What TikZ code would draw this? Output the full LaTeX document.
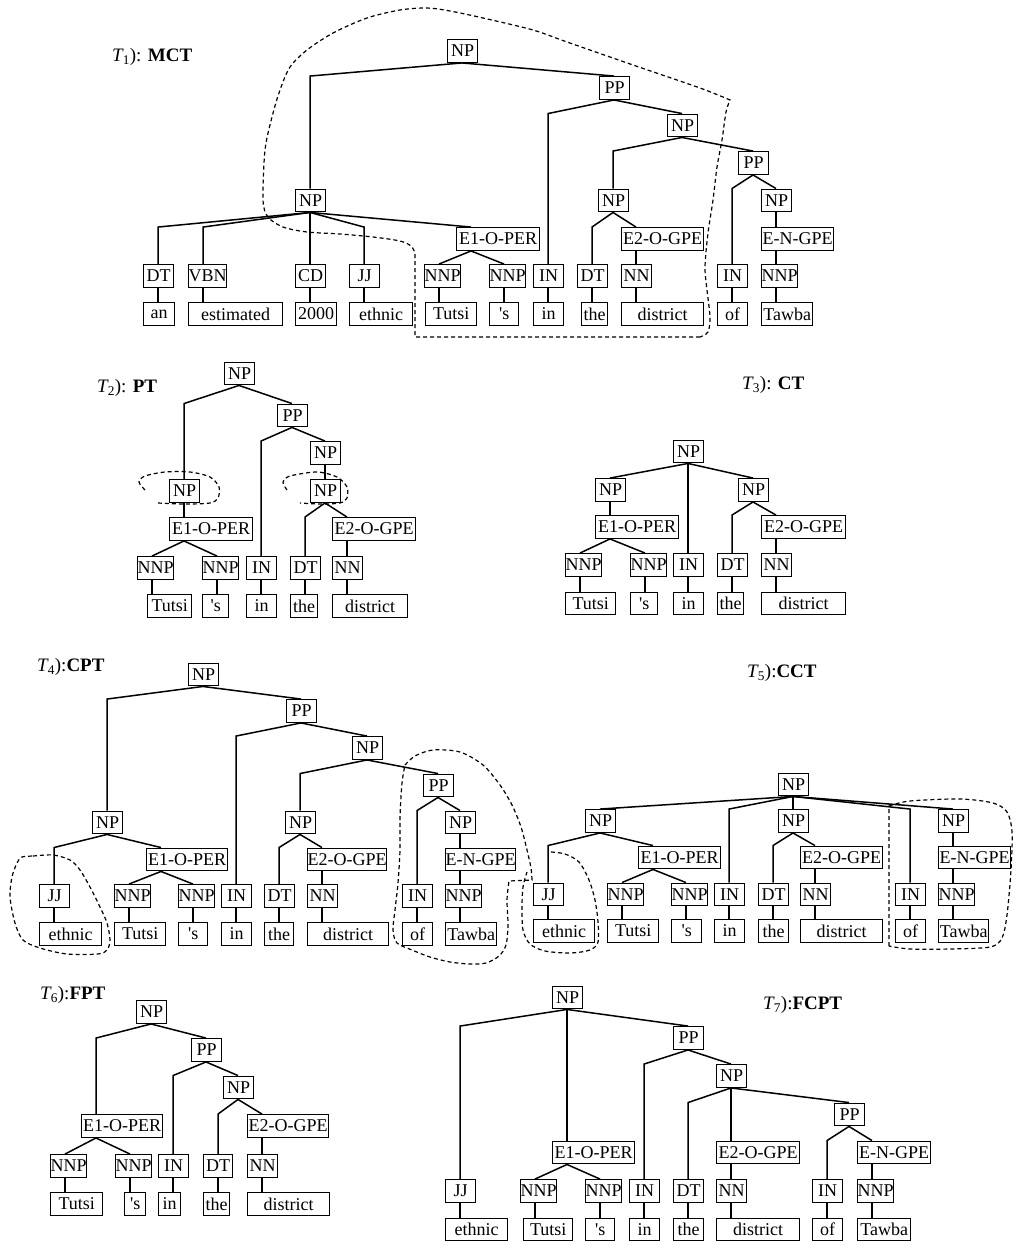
\documentclass[tikz,border=0pt]{standalone}
\usepackage{fontspec}
\setmainfont{Liberation Serif}
\newcommand\tagfont{\fontsize{18}{18}\selectfont}
\newcommand\ttlfont{\fontsize{19}{20}\selectfont}
% branching edge: parent #1, child #2, knee level = top of #3
\newcommand\TBr[3]{\draw[ed] ([xshift=15pt]#1.south west) -- ([xshift=15pt]#2.north west |- #3.north) -- ([xshift=15pt]#2.north west);}
% straight edge below parent #1 down to child #2
\newcommand\TVt[2]{\draw[ed] ([xshift=15pt]#1.south west) -- ([xshift=15pt]#1.south west |- #2.north);}
\newcommand\Ttl[2]{{\itshape T}\textsubscript{#1}):#2}
\begin{document}
\begin{tikzpicture}[x=1pt,y=-1pt,
  tg/.style={draw, line width=1.4pt, inner sep=0pt, minimum height=22.5pt, minimum width=30pt, anchor=west, xshift=-15pt, font=\tagfont},
  ed/.style={line width=1.5pt},
  dsh/.style={line width=1.2pt, dash pattern=on 4pt off 3pt},
  ttl/.style={anchor=west, inner sep=0pt, font=\ttlfont}]
\fill[white] (0,0) rectangle (1014,1245);
\useasboundingbox (0,0) rectangle (1014,1245);

% ---------------- titles
\node[ttl] (t1) at (112,57) {\Ttl{1}{ \textbf{MCT}}};
\node[ttl] (t2) at (97,388) {\Ttl{2}{ \textbf{PT}}};
\node[ttl] (t3) at (742,385) {\Ttl{3}{ \textbf{CT}}};
\node[ttl] (t4) at (37,667) {\Ttl{4}{\textbf{CPT}}};
\node[ttl] (t5) at (747,673) {\Ttl{5}{\textbf{CCT}}};
\node[ttl] (t6) at (40,995) {\Ttl{6}{\textbf{FPT}}};
\node[ttl] (t7) at (763,1005) {\Ttl{7}{\textbf{FCPT}}};

% ================= T1
\node[tg] (a0) at (462,51) {NP};
\node[tg] (a1) at (614,88) {PP};
\node[tg] (a2) at (682,125.5) {NP};
\node[tg] (a3) at (753,163) {PP};
\node[tg] (a4) at (310,200.5) {NP};
\node[tg] (a5) at (613,200.5) {NP};
\node[tg] (a6) at (776,200.5) {NP};
\node[tg,minimum width=83pt] (a7) at (471,239) {E1-O-PER};
\node[tg,minimum width=82pt] (a8) at (636,239) {E2-O-GPE};
\node[tg,minimum width=72pt] (a9) at (776,239) {E-N-GPE};
\node[tg] (a10) at (158,276) {DT};
\node[tg,minimum width=35pt] (a11) at (203,276) {VBN};
\node[tg] (a12) at (310,276) {CD};
\node[tg] (a13) at (364,276) {JJ};
\node[tg,minimum width=36pt] (a14) at (439,276) {NNP};
\node[tg,minimum width=36pt] (a15) at (504,276) {NNP};
\node[tg] (a16) at (548,276) {IN};
\node[tg] (a17) at (592,276) {DT};
\node[tg] (a18) at (636,276) {NN};
\node[tg] (a19) at (732,276) {IN};
\node[tg,minimum width=36pt] (a20) at (776,276) {NNP};
\node[tg,minimum width=31pt] (a21) at (158,314) {an};
\node[tg,minimum width=94pt] (a22) at (203,314) {estimated};
\node[tg,minimum width=41pt] (a23) at (310,314) {2000};
\node[tg,minimum width=63pt] (a24) at (364,314) {ethnic};
\node[tg,minimum width=51pt] (a25) at (440,314) {Tutsi};
\node[tg,minimum width=29pt] (a26) at (504,314) {\textquotesingle s};
\node[tg] (a27) at (548,314) {in};
\node[tg,minimum width=26pt] (a28) at (596,314) {the};
\node[tg,minimum width=82pt] (a29) at (636,314) {district};
\node[tg] (a30) at (732,314) {of};
\node[tg,minimum width=51pt] (a31) at (776,314) {Tawba};
\TBr{a0}{a4}{a1} \TBr{a0}{a1}{a1}
\TBr{a1}{a16}{a2} \TBr{a1}{a2}{a2}
\TBr{a2}{a5}{a3} \TBr{a2}{a3}{a3}
\TBr{a3}{a19}{a6} \TBr{a3}{a6}{a6}
\TVt{a6}{a9} \TVt{a9}{a20}
\foreach \c in {a10,a11,a12,a13,a7} {\TBr{a4}{\c}{a7}}
\TBr{a7}{a14}{a14} \TBr{a7}{a15}{a15}
\TBr{a5}{a17}{a8} \TBr{a5}{a8}{a8}
\TVt{a8}{a18}
\foreach \p/\c in {a10/a21,a11/a22,a12/a23,a13/a24,a14/a25,a15/a26,a16/a27,a17/a28,a18/a29,a19/a30,a20/a31} {\TVt{\p}{\c}}
\draw[dsh] (700,337) -- (415,337) -- (415,253) -- plot[smooth] coordinates {(415,253) (411,246) (400,241) (373,237) (340,234) (307,232) (283,227) (268,217) (263,200) (265,150) (272,117) (280,90) (290,67) (307,50) (333,33) (367,18) (400,10) (427,8) (450,11) (483,18) (533,30) (567,42) (633,65) (700,88) (730,100)} -- plot[smooth] coordinates {(730,100) (726,112) (722,140) (717,167) (713,200) (708,233) (705,267) (707,290) (710,317) (708,332) (700,337)};

% ================= T2
\node[tg] (b0) at (239,373.5) {NP};
\node[tg] (b1) at (292,415.5) {PP};
\node[tg] (b2) at (325,453) {NP};
\node[tg] (b3) at (184,491) {NP};
\node[tg] (b4) at (325,491) {NP};
\node[tg,minimum width=83pt] (b5) at (184,529) {E1-O-PER};
\node[tg,minimum width=83pt] (b6) at (347,529) {E2-O-GPE};
\node[tg,minimum width=34pt] (b7) at (152,568) {NNP};
\node[tg,minimum width=36pt] (b8) at (217,568) {NNP};
\node[tg] (b9) at (261,568) {IN};
\node[tg] (b10) at (305,568) {DT};
\node[tg] (b11) at (347,568) {NN};
\node[tg,minimum width=44pt] (b12) at (162,606) {Tutsi};
\node[tg,minimum width=26pt] (b13) at (217,606) {\textquotesingle s};
\node[tg] (b14) at (261,606) {in};
\node[tg,minimum width=27pt] (b15) at (305,606) {the};
\node[tg,minimum width=75pt] (b16) at (347,606) {district};
\TBr{b0}{b3}{b1} \TBr{b0}{b1}{b1}
\TBr{b1}{b9}{b2} \TBr{b1}{b2}{b2}
\TVt{b2}{b4}
\TBr{b4}{b10}{b6} \TBr{b4}{b6}{b6}
\TVt{b3}{b5}
\TBr{b5}{b7}{b7} \TBr{b5}{b8}{b8}
\TVt{b6}{b11}
\foreach \p/\c in {b7/b12,b8/b13,b9/b14,b10/b15,b11/b16} {\TVt{\p}{\c}}
\draw[dsh] plot[smooth] coordinates {(145,490) (139,482) (145,476) (165,472) (190,472) (210,477) (219,487) (218,498) (210,503) (185,504) (158,503)};
\draw[dsh] plot[smooth] coordinates {(287,490) (283,482) (290,476) (317,472) (337,477) (347,487) (347,498) (340,503) (320,504) (300,503)};

% ================= T3
\node[tg] (c0) at (688,451.5) {NP};
\node[tg] (c1) at (610,490) {NP};
\node[tg] (c2) at (753,490) {NP};
\node[tg,minimum width=83pt] (c3) at (610,527) {E1-O-PER};
\node[tg,minimum width=84pt] (c4) at (776,527) {E2-O-GPE};
\node[tg,minimum width=36pt] (c5) at (580,565) {NNP};
\node[tg,minimum width=36pt] (c6) at (645,565) {NNP};
\node[tg] (c7) at (688,565) {IN};
\node[tg] (c8) at (732,565) {DT};
\node[tg] (c9) at (776,565) {NN};
\node[tg,minimum width=50pt] (c10) at (580,603.5) {Tutsi};
\node[tg,minimum width=27pt] (c11) at (645,603.5) {\textquotesingle s};
\node[tg] (c12) at (688,603.5) {in};
\node[tg,minimum width=26pt] (c13) at (732,603.5) {the};
\node[tg,minimum width=84pt] (c14) at (776,603.5) {district};
\TBr{c0}{c1}{c1} \TBr{c0}{c7}{c1} \TBr{c0}{c2}{c1}
\TVt{c1}{c3}
\TBr{c3}{c5}{c5} \TBr{c3}{c6}{c6}
\TBr{c2}{c8}{c4} \TBr{c2}{c4}{c4}
\TVt{c4}{c9}
\foreach \p/\c in {c5/c10,c6/c11,c7/c12,c8/c13,c9/c14} {\TVt{\p}{\c}}

% ================= T4
\node[tg] (d0) at (203,674.5) {NP};
\node[tg] (d1) at (301,711) {PP};
\node[tg] (d2) at (367,748) {NP};
\node[tg] (d3) at (438,785.5) {PP};
\node[tg] (d4) at (107,822.5) {NP};
\node[tg] (d5) at (300,822.5) {NP};
\node[tg] (d6) at (460,822.5) {NP};
\node[tg,minimum width=81pt] (d7) at (161,859.5) {E1-O-PER};
\node[tg,minimum width=76pt] (d8) at (322,859.5) {E2-O-GPE};
\node[tg,minimum width=70pt] (d9) at (460,859.5) {E-N-GPE};
\node[tg] (d10) at (54,896) {JJ};
\node[tg,minimum width=35pt] (d11) at (129,896) {NNP};
\node[tg,minimum width=35pt] (d12) at (193,896) {NNP};
\node[tg] (d13) at (236,896) {IN};
\node[tg] (d14) at (279,896) {DT};
\node[tg] (d15) at (322,896) {NN};
\node[tg] (d16) at (417,896) {IN};
\node[tg,minimum width=35pt] (d17) at (460,896) {NNP};
\node[tg,minimum width=62pt] (d18) at (54,934) {ethnic};
\node[tg,minimum width=51pt] (d19) at (129,934) {Tutsi};
\node[tg,minimum width=29pt] (d20) at (193,934) {\textquotesingle s};
\node[tg] (d21) at (236,934) {in};
\node[tg,minimum width=29pt] (d22) at (279,934) {the};
\node[tg,minimum width=81pt] (d23) at (322,934) {district};
\node[tg] (d24) at (417,934) {of};
\node[tg,minimum width=51pt] (d25) at (460,934) {Tawba};
\TBr{d0}{d4}{d1} \TBr{d0}{d1}{d1}
\TBr{d1}{d13}{d2} \TBr{d1}{d2}{d2}
\TBr{d2}{d5}{d3} \TBr{d2}{d3}{d3}
\TBr{d3}{d16}{d6} \TBr{d3}{d6}{d6}
\TVt{d6}{d9} \TVt{d9}{d17}
\TBr{d4}{d10}{d7} \TBr{d4}{d7}{d7}
\TBr{d7}{d11}{d11} \TBr{d7}{d12}{d12}
\TBr{d5}{d14}{d8} \TBr{d5}{d8}{d8}
\TVt{d8}{d15}
\foreach \p/\c in {d10/d18,d11/d19,d12/d20,d13/d21,d14/d22,d15/d23,d16/d24,d17/d25} {\TVt{\p}{\c}}
\draw[dsh] plot[smooth cycle] coordinates {(22,857) (33,856) (53,855) (70,860) (80,870) (90,887) (100,907) (107,923) (110,940) (107,950) (98,954) (67,954) (40,948) (23,940) (15,923) (10,897) (12,877) (17,863)};
\draw[dsh] plot[smooth] coordinates {(405,765) (415,756) (433,750) (460,752) (483,765) (500,785) (512,805) (521,827) (527,850) (531,868) (532,880)} -- (509,881) -- plot[smooth] coordinates {(509,881) (507,900) (508,925) (506,945) (499,956) (486,963) (470,964) (450,962) (430,957) (412,950) (397,943) (393,930) (395,910) (398,883) (400,850) (400,817) (402,783) (405,765)};

% ================= T5
\node[tg] (e0) at (793,784.5) {NP};
\node[tg] (e1) at (600,821) {NP};
\node[tg] (e2) at (793,821) {NP};
\node[tg] (e3) at (953,821) {NP};
\node[tg,minimum width=82pt] (e4) at (653,857.5) {E1-O-PER};
\node[tg,minimum width=82pt] (e5) at (815,857.5) {E2-O-GPE};
\node[tg,minimum width=72pt] (e6) at (953,857.5) {E-N-GPE};
\node[tg] (e7) at (548,894.5) {JJ};
\node[tg,minimum width=35pt] (e8) at (622,894.5) {NNP};
\node[tg,minimum width=35pt] (e9) at (686,894.5) {NNP};
\node[tg] (e10) at (729,894.5) {IN};
\node[tg] (e11) at (773,894.5) {DT};
\node[tg] (e12) at (815,894.5) {NN};
\node[tg] (e13) at (910,894.5) {IN};
\node[tg,minimum width=35pt] (e14) at (953,894.5) {NNP};
\node[tg,minimum width=61pt] (e15) at (548,931) {ethnic};
\node[tg,minimum width=51pt] (e16) at (622,931) {Tutsi};
\node[tg,minimum width=30pt] (e17) at (686,931) {\textquotesingle s};
\node[tg] (e18) at (729,931) {in};
\node[tg] (e19) at (773,931) {the};
\node[tg,minimum width=82pt] (e20) at (815,931) {district};
\node[tg] (e21) at (910,931) {of};
\node[tg,minimum width=50pt] (e22) at (953,931) {Tawba};
\foreach \c in {e1,e10,e2,e13,e3} {\TBr{e0}{\c}{e1}}
\TBr{e1}{e7}{e4} \TBr{e1}{e4}{e4}
\TBr{e4}{e8}{e8} \TBr{e4}{e9}{e9}
\TBr{e2}{e11}{e5} \TBr{e2}{e5}{e5}
\TVt{e5}{e12}
\TVt{e3}{e6} \TVt{e6}{e14}
\foreach \p/\c in {e7/e15,e8/e16,e9/e17,e10/e18,e11/e19,e12/e20,e13/e21,e14/e22} {\TVt{\p}{\c}}
\draw[dsh] plot[smooth] coordinates {(551,852) (565,854) (579,862) (589,880) (595,900) (598,922) (598,942) (590,950) (570,953) (545,951) (530,944) (523,930) (522,907) (523,887) (527,872)};
\draw[dsh] (889,946) -- (889,806) -- plot[smooth] coordinates {(889,806) (910,801) (960,799) (993,803) (1007,812) (1012,832) (1011,870) (1007,915) (1002,938) (990,947) (950,949) (910,949) (889,946)};

% ================= T6
\node[tg] (f0) at (151,1012) {NP};
\node[tg] (f1) at (206,1050) {PP};
\node[tg] (f2) at (238,1087.5) {NP};
\node[tg,minimum width=81pt] (f3) at (96,1126) {E1-O-PER};
\node[tg,minimum width=81pt] (f4) at (262,1126) {E2-O-GPE};
\node[tg,minimum width=36pt] (f5) at (65,1166) {NNP};
\node[tg,minimum width=36pt] (f6) at (130,1166) {NNP};
\node[tg] (f7) at (173,1166) {IN};
\node[tg,minimum width=29pt] (f8) at (218,1166) {DT};
\node[tg] (f9) at (262,1166) {NN};
\node[tg,minimum width=52pt] (f10) at (65,1204) {Tutsi};
\node[tg,minimum width=21pt] (f11) at (139,1204) {\textquotesingle s};
\node[tg,minimum width=22pt] (f12) at (173,1204) {in};
\node[tg,minimum width=26pt] (f13) at (218,1204) {the};
\node[tg,minimum width=82pt] (f14) at (262,1204) {district};
\TBr{f0}{f3}{f1} \TBr{f0}{f1}{f1}
\TBr{f1}{f7}{f2} \TBr{f1}{f2}{f2}
\TBr{f2}{f8}{f4} \TBr{f2}{f4}{f4}
\TBr{f3}{f5}{f5} \TBr{f3}{f6}{f6}
\TVt{f4}{f9}
\foreach \p/\c in {f5/f10,f6/f11,f7/f12,f8/f13,f9/f14} {\TVt{\p}{\c}}

% ================= T7
\node[tg] (g0) at (567,997.5) {NP};
\node[tg] (g1) at (688,1038) {PP};
\node[tg] (g2) at (731,1076) {NP};
\node[tg] (g3) at (849,1114.5) {PP};
\node[tg,minimum width=82pt] (g4) at (567,1152.5) {E1-O-PER};
\node[tg,minimum width=83pt] (g5) at (731,1152.5) {E2-O-GPE};
\node[tg,minimum width=73pt] (g6) at (872,1152.5) {E-N-GPE};
\node[tg] (g7) at (460,1191) {JJ};
\node[tg,minimum width=36pt] (g8) at (535,1191) {NNP};
\node[tg,minimum width=36pt] (g9) at (600,1191) {NNP};
\node[tg] (g10) at (644,1191) {IN};
\node[tg] (g11) at (688,1191) {DT};
\node[tg] (g12) at (731,1191) {NN};
\node[tg] (g13) at (827,1191) {IN};
\node[tg,minimum width=36pt] (g14) at (872,1191) {NNP};
\node[tg,minimum width=62pt] (g15) at (460,1229.5) {ethnic};
\node[tg,minimum width=49pt] (g16) at (538,1229.5) {Tutsi};
\node[tg,minimum width=29pt] (g17) at (600,1229.5) {\textquotesingle s};
\node[tg] (g18) at (644,1229.5) {in};
\node[tg] (g19) at (688,1229.5) {the};
\node[tg,minimum width=83pt] (g20) at (731,1229.5) {district};
\node[tg] (g21) at (827,1229.5) {of};
\node[tg,minimum width=53pt] (g22) at (872,1229.5) {Tawba};
\TBr{g0}{g7}{g1} \TBr{g0}{g4}{g1} \TBr{g0}{g1}{g1}
\TBr{g1}{g10}{g2} \TBr{g1}{g2}{g2}
\TBr{g2}{g11}{g3} \TBr{g2}{g5}{g3} \TBr{g2}{g3}{g3}
\TBr{g3}{g13}{g6} \TBr{g3}{g6}{g6}
\TBr{g4}{g8}{g8} \TBr{g4}{g9}{g9}
\TVt{g5}{g12} \TVt{g6}{g14}
\foreach \p/\c in {g7/g15,g8/g16,g9/g17,g10/g18,g11/g19,g12/g20,g13/g21,g14/g22} {\TVt{\p}{\c}}
\end{tikzpicture}
\end{document}
